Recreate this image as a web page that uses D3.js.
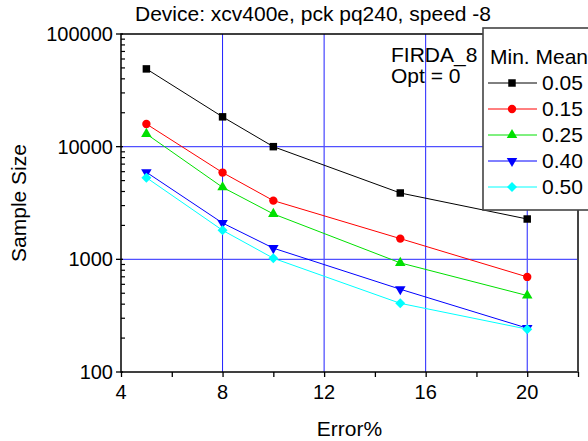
<!DOCTYPE html>
<html>
<head>
<meta charset="utf-8">
<script src="https://cdn.jsdelivr.net/npm/d3@7"></script>
<style>
  body { margin: 0; background: #fff; }
  svg { display: block; font-family: "Liberation Sans", Arial, sans-serif; }
</style>
</head>
<body>
<script>
// data
const errorPct = [5, 8, 10, 15, 20];
const seriesNames = ["0.05", "0.15", "0.25", "0.40", "0.50"];
const s005 = [49000, 18400, 10000, 3880, 2280];
const s015 = [15900, 5890, 3320, 1527, 698];
const s025 = [12970, 4360, 2530, 930, 477];
const s040 = [5930, 2100, 1257, 543, 245];
const s050 = [5310, 1810, 1023, 407, 240];
const xTicks = [4, 8, 12, 16, 20];
const yTicks = [100, 1000, 10000, 100000];

const colors = ["#000000", "#ff0000", "#00e000", "#0000ff", "#00ffff"];
const seriesValues = [s005, s015, s025, s040, s050];

const width = 588, height = 441;
const fs = 20;   // tick labels
const fsT = 21;  // titles, notes, legend

const x = d3.scaleLinear().domain([4, 22]).range([121, 578]);
const y = d3.scaleLog().domain([100, 100000]).range([372, 34]);

const svg = d3.select("body").append("svg")
  .attr("width", width).attr("height", height);

// grid
const grid = svg.append("g");
grid.selectAll("line.v").data([8, 12, 16, 20]).join("line")
  .attr("x1", d => x(d)).attr("x2", d => x(d))
  .attr("y1", y(100000)).attr("y2", y(100))
  .attr("stroke", "#2020ff").attr("stroke-width", 1);
grid.selectAll("line.h").data([1000, 10000]).join("line")
  .attr("x1", x(4)).attr("x2", x(22))
  .attr("y1", d => y(d)).attr("y2", d => y(d))
  .attr("stroke", "#5050ff").attr("stroke-width", 1.4);

// frame
svg.append("rect")
  .attr("x", x(4)).attr("y", y(100000))
  .attr("width", x(22) - x(4)).attr("height", y(100) - y(100000))
  .attr("fill", "none").attr("stroke", "#000").attr("stroke-width", 1.5);
svg.append("line")
  .attr("x1", x(22)).attr("x2", x(22)).attr("y1", y(100000)).attr("y2", y(100))
  .attr("stroke", "#444").attr("stroke-width", 2);

// x axis
const xAxis = svg.append("g").attr("transform", `translate(0,${y(100)})`);
xAxis.call(d3.axisBottom(x).tickValues(d3.range(4, 23, 2)).tickSize(5).tickFormat(""))
  .call(g => g.select(".domain").remove());
xAxis.selectAll(".tick line").attr("stroke-width", 1.3);
svg.append("g").selectAll("text").data(xTicks).join("text")
  .attr("x", d => x(d)).attr("y", y(100) + 27)
  .attr("text-anchor", "middle").attr("font-size", fs)
  .text(d => d);

// y axis
const yAxis = svg.append("g").attr("transform", `translate(${x(4)},0)`);
const minor = [];
[100, 1000, 10000].forEach(b => { for (let k = 2; k <= 9; k++) minor.push(b * k); });
yAxis.selectAll("line.minor").data(minor).join("line")
  .attr("x1", 0).attr("x2", 4)
  .attr("y1", d => y(d)).attr("y2", d => y(d))
  .attr("stroke", "#000").attr("stroke-width", 1.2);
yAxis.selectAll("line.major").data(yTicks).join("line")
  .attr("x1", -5).attr("x2", 2)
  .attr("y1", d => y(d)).attr("y2", d => y(d))
  .attr("stroke", "#000").attr("stroke-width", 1.3);
yAxis.selectAll("text").data(yTicks).join("text")
  .attr("x", -8).attr("y", d => y(d) + 7)
  .attr("text-anchor", "end").attr("font-size", fs)
  .text(d => d);

// titles
svg.append("text").attr("x", 313).attr("y", 21).attr("text-anchor", "middle")
  .attr("font-size", fsT).text("Device: xcv400e, pck pq240, speed -8");
svg.append("text").attr("x", x(13)).attr("y", 436).attr("text-anchor", "middle")
  .attr("font-size", fsT).text("Error%");
svg.append("text").attr("transform", `translate(26,${(y(100) + y(100000)) / 2}) rotate(-90)`)
  .attr("text-anchor", "middle").attr("font-size", fsT).text("Sample Size");
svg.append("text").attr("x", 391).attr("y", 62).attr("font-size", fsT).text("FIRDA_8");
svg.append("text").attr("x", 391).attr("y", 83).attr("font-size", fsT).text("Opt = 0");

// marker shapes
const marker = (sel, i) => {
  if (i === 0) sel.attr("d", d3.symbol(d3.symbolSquare, 56)());
  else if (i === 1) sel.attr("d", d3.symbol(d3.symbolCircle, 55)());
  else if (i === 2) sel.attr("d", d3.symbol(d3.symbolTriangle, 48)());
  else if (i === 3) sel.attr("d", d3.symbol(d3.symbolTriangle, 48)()).attr("class", "flip");
  else sel.attr("d", d3.symbol(d3.symbolSquare, 50)()).attr("class", "rot");
};
const place = (sel, tx, ty) => sel.attr("transform", function (d, j) {
  const c = d3.select(this).attr("class");
  const extra = c === "flip" ? " rotate(180)" : c === "rot" ? " rotate(45)" : "";
  return `translate(${tx(d, j)},${ty(d, j)})` + extra;
});

// series
const line = d3.line().x((d, j) => x(errorPct[j])).y(d => y(d));
seriesValues.forEach((vals, i) => {
  const g = svg.append("g");
  g.append("path").attr("d", line(vals))
    .attr("fill", "none").attr("stroke", colors[i]).attr("stroke-width", 1);
  g.selectAll("path.m").data(vals).join("path")
    .attr("fill", colors[i])
    .call(sel => marker(sel, i))
    .call(sel => place(sel, (d, j) => x(errorPct[j]), d => y(d)));
});

// legend
const lg = svg.append("g");
lg.append("rect").attr("x", 483).attr("y", 28).attr("width", 120).attr("height", 182)
  .attr("fill", "#fff").attr("stroke", "#444").attr("stroke-width", 1.6);
lg.append("text").attr("x", 490).attr("y", 64).attr("font-size", fsT).text("Min. Mean");
seriesNames.forEach((name, i) => {
  const yy = 83 + i * 26;
  lg.append("line").attr("x1", 488).attr("x2", 537).attr("y1", yy).attr("y2", yy)
    .attr("stroke", colors[i]).attr("stroke-width", 1);
  lg.append("path").datum(0)
    .attr("fill", colors[i])
    .call(sel => marker(sel, i))
    .call(sel => place(sel, () => 512, () => yy));
  lg.append("text").attr("x", 542).attr("y", yy + 7).attr("font-size", fsT).text(name);
});
</script>
</body>
</html>
